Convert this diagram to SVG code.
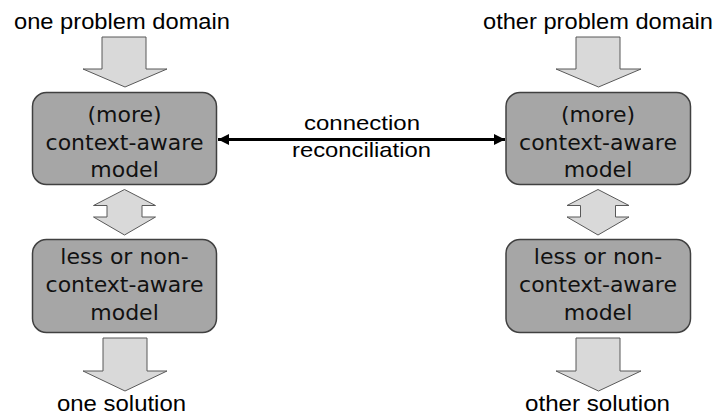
<svg xmlns="http://www.w3.org/2000/svg" width="718" height="416" viewBox="0 0 718 416">
<style>
.box{fill:#a6a6a6;stroke:#404040;stroke-width:1.5}
.arr{fill:#d9d9d9;stroke:#595959;stroke-width:1}
.bt{font-family:"DejaVu Sans",sans-serif;font-size:22px;fill:#111;text-anchor:middle}
.lb{font-family:"Liberation Sans",Arial,sans-serif;font-size:22px;fill:#000;text-anchor:middle}
.cl{font-family:"Liberation Sans",Arial,sans-serif;font-size:21px;fill:#000;text-anchor:middle}
.con{stroke:#000;stroke-width:3;fill:none}
</style>
<defs>
<marker id="ah" viewBox="0 0 10 10" refX="10" refY="5" markerWidth="11" markerHeight="11" markerUnits="userSpaceOnUse" orient="auto-start-reverse">
<path d="M0,0 L10,5 L0,10 Z" fill="#000"/>
</marker>
</defs>
<g id="labels">
<text class="lb" x="122" y="28.5" textLength="216" lengthAdjust="spacingAndGlyphs">one problem domain</text>
<text class="lb" x="598" y="28.5" textLength="230" lengthAdjust="spacingAndGlyphs">other problem domain</text>
<text class="lb" x="121.5" y="411" textLength="129" lengthAdjust="spacingAndGlyphs">one solution</text>
<text class="lb" x="597.5" y="411" textLength="145" lengthAdjust="spacingAndGlyphs">other solution</text>
</g>
<g id="flow-arrows">
<polygon class="arr" points="102,37 146,37 146,69 167,69 125,87 83,69 102,69"/>
<polygon class="arr" points="576,37 620,37 620,69 641,69 598.5,87 556,69 576,69"/>
<polygon class="arr" points="124.5,189.5 155.5,205.5 142,205.5 142,217 155.5,217 124.5,235 93.5,217 107,217 107,205.5 93.5,205.5"/>
<polygon class="arr" points="598,189.5 629,205.5 615.5,205.5 615.5,217 629,217 598,235 567,217 580.5,217 580.5,205.5 567,205.5"/>
<polygon class="arr" points="103,338 147,338 147,371 167,371 125,391 83,371 103,371"/>
<polygon class="arr" points="576,338 620,338 620,371 641,371 598.5,391 556,371 576,371"/>
</g>
<g id="node-left-context">
<rect class="box" x="32.5" y="92.5" width="184" height="92" rx="14"/>
<text class="bt" x="124.5" y="122">(more)</text>
<text class="bt" x="124.5" y="150">context-aware</text>
<text class="bt" x="124.5" y="177">model</text>
</g>
<g id="node-left-noncontext">
<rect class="box" x="32.5" y="239.5" width="184" height="93" rx="14"/>
<text class="bt" x="124.5" y="264">less or non-</text>
<text class="bt" x="124.5" y="292">context-aware</text>
<text class="bt" x="124.5" y="320">model</text>
</g>
<g id="node-right-context">
<rect class="box" x="506" y="92.5" width="184.5" height="92" rx="14"/>
<text class="bt" x="598" y="122">(more)</text>
<text class="bt" x="598" y="150">context-aware</text>
<text class="bt" x="598" y="177">model</text>
</g>
<g id="node-right-noncontext">
<rect class="box" x="506" y="239.5" width="184.5" height="93" rx="14"/>
<text class="bt" x="598" y="264">less or non-</text>
<text class="bt" x="598" y="292">context-aware</text>
<text class="bt" x="598" y="320">model</text>
</g>
<g id="connectors">
<line class="con" x1="218" y1="139.5" x2="505" y2="139.5" marker-start="url(#ah)" marker-end="url(#ah)"/>
<text class="cl" x="362" y="130" textLength="116" lengthAdjust="spacingAndGlyphs">connection</text>
<text class="cl" x="361.5" y="157" textLength="139" lengthAdjust="spacingAndGlyphs">reconciliation</text>
</g>
</svg>
